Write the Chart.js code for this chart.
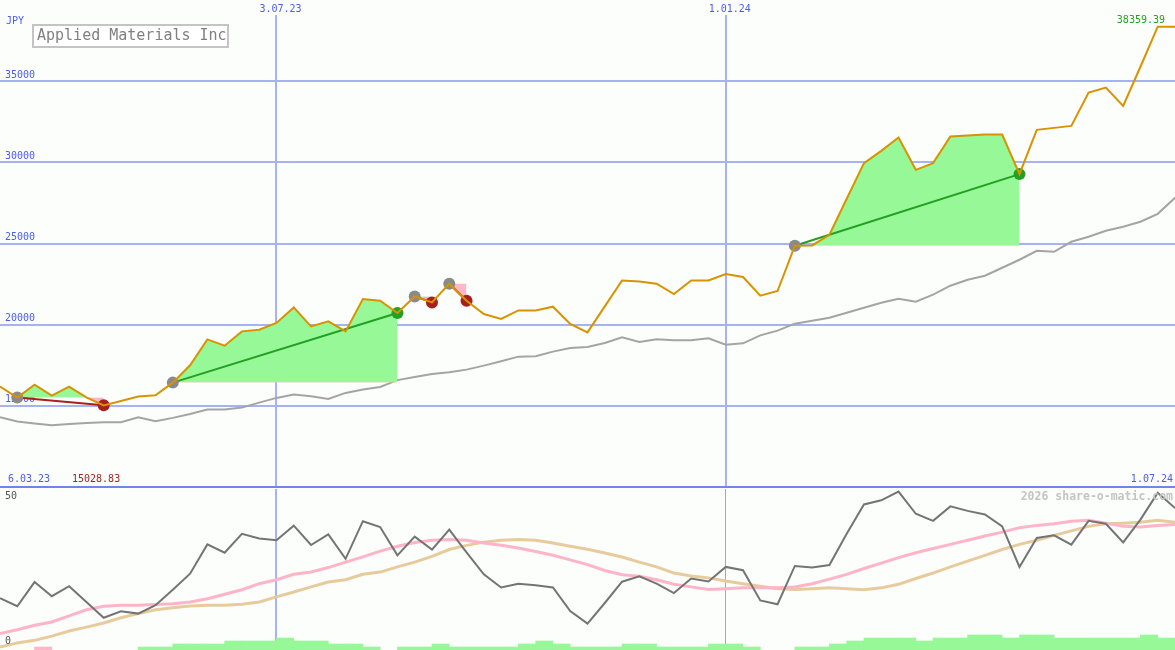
<!DOCTYPE html>
<html>
<head>
<meta charset="utf-8">
<script src="https://cdn.jsdelivr.net/npm/chart.js@4.4.1/dist/chart.umd.min.js"></script>
<style>
  body { margin: 0; background: #fcfefc; }
  #wrap { position: relative; width: 1175px; height: 650px; overflow: hidden; }
  canvas { position: absolute; left: 0; }
  #main { top: 0; }
  #osc { top: 489px; }
</style>
</head>
<body>
<div id="wrap">
  <canvas id="main" width="1175" height="489"></canvas>
  <canvas id="osc" width="1175" height="161"></canvas>
</div>
<script>
  // weekly closes, JPY
  const price = [16184, 15507, 16307, 15630, 16184, 15525, 15028.83, 15292, 15569, 15649,
    16430, 17495, 19095, 18707, 19587, 19692, 20104, 21064, 19895, 20203,
    19587, 21581, 21477, 20720, 21741, 21372, 22523, 21477, 20658, 20350,
    20880, 20880, 21107, 20042, 19526, 21126, 22726, 22664, 22523, 21889,
    22726, 22726, 23120, 22935, 21784, 22074, 24861, 24880, 25538, 27754,
    29951, 30708, 31526, 29538, 29951, 31588, 31649, 31711, 31711, 29274,
    32000, 32123, 32246, 34295, 34603, 33477, 35889, 38359.39, 38359.39];
  const avg = [14295, 14030, 13907, 13803, 13876, 13938, 13987, 13987, 14295, 14049,
    14258, 14492, 14769, 14769, 14892, 15200, 15489, 15692, 15587, 15427,
    15796, 16000, 16166, 16584, 16781, 16966, 17064, 17230, 17476, 17741,
    18031, 18049, 18338, 18566, 18627, 18873, 19218, 18935, 19095, 19033,
    19033, 19157, 18769, 18849, 19341, 19630, 20061, 20246, 20430, 20738,
    21046, 21353, 21600, 21415, 21846, 22400, 22769, 23015, 23508, 24000,
    24554, 24492, 25107, 25415, 25784, 26030, 26338, 26830, 27815];

  // trades: buy week -> sell week
  const tradeBuy = [1, 10, 24, 26, 46];
  const tradeSell = [6, 23, 25, 27, 59];

  // lower panel
  const osc = [16.1, 13.6, 21.1, 16.7, 19.8, 14.9, 10.0, 12.0, 11.3, 13.9,
    18.7, 23.7, 32.8, 30.2, 36.1, 34.6, 34.1, 38.6, 32.6, 35.9,
    28.3, 40.0, 38.2, 29.4, 35.2, 31.2, 37.4, 30.3, 23.5, 19.4,
    20.6, 20.1, 19.4, 12.1, 8.2, 14.6, 21.2, 22.9, 20.6, 17.7,
    22.2, 21.3, 25.8, 24.8, 15.4, 14.2, 26.1, 25.6, 26.4, 36.1,
    45.2, 46.5, 49.2, 42.3, 40.1, 44.6, 43.2, 42.1, 38.4, 25.8,
    34.8, 35.6, 32.7, 40.1, 39.2, 33.4, 40.5, 48.8, 44.1];
  const oscFast = [5.1, 6.3, 7.7, 8.7, 10.6, 12.5, 13.6, 13.9, 13.9, 14.1,
    14.4, 14.9, 15.9, 17.3, 18.7, 20.6, 21.8, 23.5, 24.2, 25.6,
    27.3, 28.9, 30.7, 32.2, 33.4, 34.1, 34.3, 34.1, 33.2, 32.5,
    31.7, 30.6, 29.4, 28.0, 26.5, 24.7, 23.4, 22.9, 21.8, 20.4,
    19.6, 18.8, 19.0, 19.3, 19.3, 19.3, 19.6, 20.6, 22.0, 23.5,
    25.3, 27.0, 28.7, 30.2, 31.5, 32.8, 34.1, 35.4, 36.6, 38.0,
    38.7, 39.2, 40.0, 40.3, 39.4, 38.4, 38.2, 38.7, 39.0];
  const oscSlow = [0.9, 2.2, 3.0, 4.3, 5.9, 7.1, 8.4, 10.0, 11.3, 12.5,
    13.1, 13.7, 13.9, 13.9, 14.2, 14.9, 16.5, 18.0, 19.6, 21.1,
    21.8, 23.5, 24.2, 25.8, 27.3, 29.1, 31.2, 32.5, 33.5, 34.1,
    34.3, 34.1, 33.2, 32.2, 31.3, 30.1, 28.9, 27.3, 25.8, 23.9,
    23.0, 22.4, 21.4, 20.6, 19.8, 19.0, 18.8, 19.0, 19.3, 19.0,
    18.7, 19.3, 20.4, 22.2, 23.9, 25.8, 27.6, 29.4, 31.2, 32.8,
    34.1, 35.6, 37.0, 38.4, 39.2, 39.4, 39.7, 40.3, 39.7];
  // negative = pink
  const bars = [0, 0, -1, 0, 0, 0, 0, 0, 1, 1,
    2, 2, 2, 3, 3, 3, 4, 3, 3, 2,
    2, 1, 0, 1, 1, 2, 1, 1, 1, 1,
    2, 3, 2, 1, 1, 1, 2, 2, 1, 1,
    1, 2, 2, 1, 0, 0, 1, 1, 2, 3,
    4, 4, 4, 3, 4, 4, 5, 5, 4, 5,
    5, 4, 4, 4, 4, 4, 5, 4, 0];

  const yTicks = [10000, 15000, 20000, 25000, 30000, 35000];
  const dateWeeks = [16, 42];
  const dateLabels = ['3.07.23', '1.01.24'];
  const firstDate = '6.03.23';
  const lastDate = '1.07.24';
  const title = 'Applied Materials Inc';

  const MONO = '"DejaVu Sans Mono", monospace';
  const BG = '#fcfefc';
  const BLUE = '#4b5cf0';
  const GRID = '#a6b2f4';
  const ORANGE = '#d99200';
  const FILL_G = '#96f896';
  const FILL_P = '#ffb6c8';
  const DOT_G = '#22a022';
  const DOT_R = '#a81f1f';
  const DOT_B = '#8a8a8a';

  const pts = arr => arr.map((v, i) => ({ x: i, y: v }));

  const mainSets = [];
  mainSets.push({ data: pts(avg), borderColor: '#a4a4a4', borderWidth: 2, order: 50 });
  const dotPts = [], dotCols = [];
  tradeBuy.forEach((b, k) => {
    const s = tradeSell[k];
    const entry = price[b], exit = price[s];
    const win = exit > entry;
    mainSets.push({
      data: price.slice(b, s + 1).map((v, j) => ({ x: b + j, y: v })),
      borderWidth: 0, borderColor: 'transparent',
      fill: { target: { value: entry }, above: FILL_G, below: FILL_P },
      order: 40
    });
    mainSets.push({
      data: [{ x: b, y: entry }, { x: s, y: exit }],
      borderColor: win ? DOT_G : DOT_R, borderWidth: 2, order: 30
    });
    dotPts.push({ x: b, y: entry }, { x: s, y: exit });
    dotCols.push(DOT_B, win ? DOT_G : DOT_R);
  });
  mainSets.push({
    data: dotPts, showLine: false, pointRadius: 6, pointBorderWidth: 0,
    pointBackgroundColor: dotCols, order: 20
  });
  mainSets.push({ data: pts(price), borderColor: ORANGE, borderWidth: 2, order: 10 });

  // y labels sit just above their grid lines, under the data
  const yLabels = {
    id: 'yLabels',
    beforeDatasetsDraw(chart) {
      const c = chart.ctx;
      const ys = chart.scales.y;
      c.save();
      c.font = '10px ' + MONO;
      c.fillStyle = BLUE;
      c.textAlign = 'left';
      c.textBaseline = 'middle';
      yTicks.forEach(v => {
        if (v > ys.min) c.fillText(String(v), 5, ys.getPixelForValue(v) - 6);
      });
      c.restore();
    }
  };

  const mainText = {
    id: 'mainText',
    afterDraw(chart) {
      const c = chart.ctx;
      const xs = chart.scales.x;
      c.save();
      c.textBaseline = 'middle';
      c.font = '10px ' + MONO;
      c.fillStyle = BLUE;
      c.textAlign = 'left';
      c.fillText('JPY', 6, 21);
      c.textAlign = 'center';
      dateWeeks.forEach((w, k) => {
        const px = xs.getPixelForValue(w);
        c.fillStyle = BG;
        c.fillRect(px - 22, 0, 48, 15);
        c.fillStyle = BLUE;
        c.fillText(dateLabels[k], px + 4, 9);
      });
      c.textAlign = 'left';
      c.fillText(firstDate, 8, 479);
      c.fillStyle = DOT_R;
      c.fillText(Math.min(...price).toFixed(2), 72, 479);
      c.fillStyle = BLUE;
      c.textAlign = 'right';
      c.fillText(lastDate, 1173, 479);
      c.fillStyle = DOT_G;
      c.fillText(price[price.length - 1].toFixed(2), 1165, 20);
      // title box
      c.fillStyle = '#ffffff';
      c.fillRect(33, 25, 195, 22);
      c.strokeStyle = '#c4c4c4';
      c.lineWidth = 2;
      c.strokeRect(33, 25, 195, 22);
      c.fillStyle = '#808080';
      c.textAlign = 'left';
      c.font = '15px ' + MONO;
      c.fillText(title, 37, 36.5);
      c.restore();
    }
  };

  const ctx1 = document.getElementById('main').getContext('2d');
  const chart1 = new Chart(ctx1, {
    type: 'line',
    data: { datasets: mainSets },
    options: {
      responsive: false,
      animation: false,
      devicePixelRatio: 1,
      layout: { autoPadding: false, padding: { bottom: 2 } },
      elements: { point: { radius: 0 }, line: { tension: 0 } },
      plugins: { legend: { display: false }, tooltip: { enabled: false } },
      scales: {
        x: {
          type: 'linear', min: 0, max: 68, offset: false,
          afterBuildTicks: s => { s.ticks = dateWeeks.map(v => ({ value: v })); },
          ticks: { display: false },
          grid: { color: GRID, lineWidth: 2, drawTicks: false },
          border: { display: false }
        },
        y: {
          min: 10000, max: 40000,
          afterBuildTicks: s => { s.ticks = yTicks.map(v => ({ value: v })); },
          ticks: { display: false },
          grid: {
            color: c => c.tick && c.tick.value === 10000 ? '#7282f0' : GRID,
            lineWidth: 2, drawTicks: false
          },
          border: { display: false }
        }
      }
    },
    plugins: [yLabels, mainText]
  });

  const barPts = [], barCols = [];
  bars.forEach((v, i) => {
    if (v) {
      barPts.push({ x: i + 0.5, y: Math.abs(v) });
      barCols.push(v < 0 ? FILL_P : FILL_G);
    }
  });

  const oscText = {
    id: 'oscText',
    afterDraw(chart) {
      const c = chart.ctx;
      c.save();
      c.textBaseline = 'middle';
      c.font = '10px ' + MONO;
      c.fillStyle = '#555555';
      c.textAlign = 'left';
      c.fillText('50', 5, 7);
      c.fillText('0', 5, 152);
      c.font = 'bold 11.5px ' + MONO;
      c.fillStyle = '#c4c4c4';
      c.textAlign = 'right';
      c.fillText('2026 share-o-matic.com', 1173, 8);
      c.restore();
    }
  };

  const ctx2 = document.getElementById('osc').getContext('2d');
  const chart2 = new Chart(ctx2, {
    type: 'line',
    data: {
      datasets: [
        { type: 'bar', yAxisID: 'yb', data: barPts, backgroundColor: barCols,
          barPercentage: 1, categoryPercentage: 1, borderWidth: 0, order: 100 },
        { data: pts(oscSlow), borderColor: '#e8cb9c', borderWidth: 3, order: 30 },
        { data: pts(oscFast), borderColor: '#ffb4c8', borderWidth: 3, order: 20 },
        { data: pts(osc), borderColor: '#747474', borderWidth: 2, order: 10 }
      ]
    },
    options: {
      responsive: false,
      animation: false,
      devicePixelRatio: 1,
      layout: { autoPadding: false },
      elements: { point: { radius: 0 }, line: { tension: 0 } },
      plugins: { legend: { display: false }, tooltip: { enabled: false } },
      scales: {
        x: {
          type: 'linear', min: 0, max: 68, offset: false,
          afterBuildTicks: s => { s.ticks = dateWeeks.map(v => ({ value: v })); },
          ticks: { display: false },
          grid: {
            offset: false,
            color: c => c.tick && c.tick.value === 42 ? '#a8a8a8' : GRID,
            lineWidth: c => c.tick && c.tick.value === 42 ? 1 : 2,
            drawTicks: false
          },
          border: { display: false }
        },
        y: { min: 0, max: 50, display: false },
        yb: { min: 0, max: 161 / 3, display: false }
      }
    },
    plugins: [oscText]
  });
</script>
</body>
</html>
